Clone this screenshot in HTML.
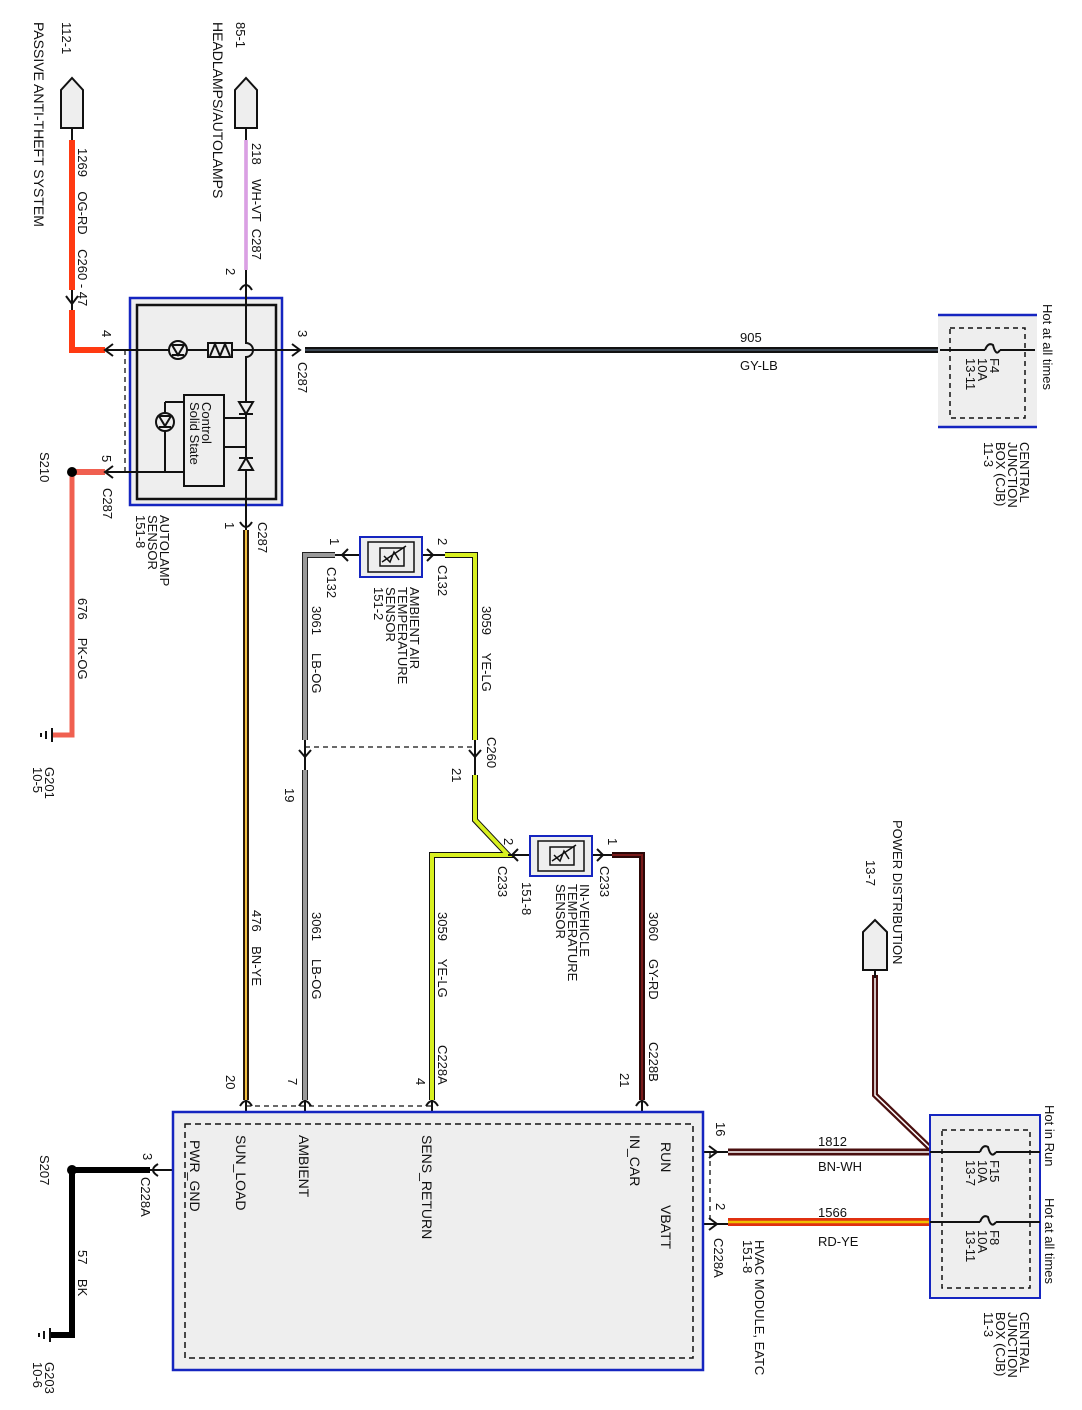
<!DOCTYPE html>
<html><head><meta charset="utf-8"><style>
body{margin:0;background:#fff}
svg{display:block}
text{font-family:"Liberation Sans",sans-serif;font-size:13px;fill:#111;white-space:pre}
.b{font-size:14px}
</style></head><body>
<svg width="1082" height="1410" viewBox="0 0 1082 1410" xmlns="http://www.w3.org/2000/svg" xml:space="preserve">
<g fill="none" stroke-linecap="butt">
<path d="M72 140 V290 M72 310 V350 H105" stroke="#ff3a12" stroke-width="6"/>
<path d="M246 140 V270" stroke="#c060d0" stroke-width="3"/><path d="M246 140 V270" stroke="#f3e0f6" stroke-width="1"/>
<path d="M305 350 H940" stroke="#111" stroke-width="6"/><path d="M305 350 H940" stroke="#4a5a6a" stroke-width="1.5"/>
<path d="M72 472 H105" stroke="#f06050" stroke-width="6"/>
<path d="M72 472 V735 H52" stroke="#f06050" stroke-width="5"/>
<path d="M246 530 V1100" stroke="#2a1608" stroke-width="6"/><path d="M246 530 V1100" stroke="#f2c040" stroke-width="2"/>
<path d="M335 555 H305 V740 M305 770 V1100" stroke="#222" stroke-width="6"/><path d="M335 555 H305 V740 M305 770 V1100" stroke="#9a9a9a" stroke-width="4"/>
<path d="M445 555 H475 V740 M475 775 V820 L508 855 H432 V1100" stroke="#111" stroke-width="6"/><path d="M445 555 H475 V740 M475 775 V820 L508 855 H432 V1100" stroke="#d8f020" stroke-width="4"/>
<path d="M612 855 H642 V1100" stroke="#2a0808" stroke-width="6"/><path d="M612 855 H642 V1100" stroke="#7a1a1a" stroke-width="2"/>
<path d="M728 1152 H930" stroke="#4a0f0f" stroke-width="7"/><path d="M728 1152 H930" stroke="#fff" stroke-width="1.5"/>
<path d="M728 1222 H930" stroke="#e03010" stroke-width="8"/><path d="M728 1222 H930" stroke="#f0c000" stroke-width="2.5"/>
<path d="M875 975 V1095 L932 1150" stroke="#4a0f0f" stroke-width="6"/><path d="M875 975 V1095 L932 1150" stroke="#fff" stroke-width="1.5"/>
<path d="M150 1170 H72 V1335 H50" stroke="#000" stroke-width="6"/>
<path d="M125 350 V472 M305 747 H475 M246 1106 H432 M710 1152 V1224" stroke="#111" stroke-width="1.3" stroke-dasharray="5,4"/>
</g>
<g fill="#eee" stroke="#111" stroke-width="2">
<path d="M61 128 V90 L72 78 L83 90 V128 Z"/>
<path d="M235 128 V90 L246 78 L257 90 V128 Z"/>
<path d="M863 970 V932 L875 920 L887 932 V970 Z"/>
</g>
<path d="M72 128 V140 M246 128 V140 M875 970 V978" stroke="#111" stroke-width="2"/>
<rect x="130" y="298" width="152" height="207" fill="#eee" stroke="#1525c0" stroke-width="2.5"/>
<rect x="137" y="305" width="139" height="194" fill="#eee" stroke="#111" stroke-width="2.5"/>
<g stroke="#111" stroke-width="2" fill="none">
<path d="M246 270 V343 A7 7 0 0 1 246 357 V530"/>
<path d="M105 350 H300"/>
<rect x="208" y="343" width="24" height="14" fill="#eee"/>
<path d="M210 356 L215 344 L220 356 L225 344 L230 356"/>
<circle cx="178" cy="350" r="9" fill="#eee"/>
<path d="M172 345 L184 345 L178 355 Z M172 355 H184"/>
<rect x="184" y="395" width="40" height="91" fill="#eee"/>
<path d="M224 418 H246 M224 447 H246"/>
<path d="M239 402 L253 402 L246 414 Z M239 414 H253" fill="#eee"/>
<path d="M239 470 L253 470 L246 458 Z M239 458 H253" fill="#eee"/>
<path d="M105 472 H184 M165 402 V472 M165 402 H184"/>
<circle cx="165" cy="422" r="9" fill="#eee"/>
<path d="M159 416 H171 L165 426 Z M159 427 H171"/>
</g>
<g stroke="#111" stroke-width="2" fill="none">
<path d="M66 296 L72 304 L78 296 M72 290 V310"/>
<path d="M240 290 Q246 280 252 290"/>
<path d="M113 344 L105 350 L113 356"/>
<path d="M292 344 L300 350 L292 356"/>
<path d="M113 466 L105 472 L113 478"/>
<path d="M240 522 Q246 532 252 522"/>
<path d="M348 549 L342 555 L348 561 M335 555 H360"/>
<path d="M427 549 L433 555 L427 561 M422 555 H445"/>
<path d="M299 750 L305 757 L311 750 M305 740 V770"/>
<path d="M469 750 L475 757 L481 750 M475 740 V775"/>
<path d="M518 849 L512 855 L518 861 M508 855 H530"/>
<path d="M597 849 L603 855 L597 861 M592 855 H612"/>
<path d="M240 1106 Q246 1096 252 1106 M246 1100 V1124"/>
<path d="M299 1106 Q305 1096 311 1106 M305 1100 V1124"/>
<path d="M426 1106 Q432 1096 438 1106 M432 1100 V1124"/>
<path d="M636 1106 Q642 1096 648 1106 M642 1100 V1124"/>
<path d="M693 1152 H728 M709 1146 L717 1152 L709 1158"/>
<path d="M693 1224 H728 M709 1218 L717 1224 L709 1230"/>
<path d="M185 1170 H150 M158 1164 Q148 1170 158 1176"/>
<path d="M52 728 V742 M46 731 V739 M41 733 V737"/>
<path d="M50 1328 V1342 M44 1331 V1339 M39 1333 V1337"/>
</g>
<circle cx="72" cy="472" r="5" fill="#000"/>
<circle cx="72" cy="1170" r="5" fill="#000"/>
<rect x="360" y="537" width="62" height="40" fill="#eee" stroke="#1525c0" stroke-width="2"/>
<rect x="368" y="542" width="46" height="30" fill="#eee" stroke="#111" stroke-width="1.5"/>
<rect x="380" y="548" width="24" height="18" fill="none" stroke="#111" stroke-width="1.5"/>
<path d="M382 562 L406 546 M384 556 L390 562 L394 552 L399 560" stroke="#111" stroke-width="1.5" fill="none"/>
<rect x="530" y="836" width="62" height="40" fill="#eee" stroke="#1525c0" stroke-width="2"/>
<rect x="538" y="841" width="46" height="30" fill="#eee" stroke="#111" stroke-width="1.5"/>
<rect x="550" y="847" width="24" height="18" fill="none" stroke="#111" stroke-width="1.5"/>
<path d="M552 861 L576 845 M554 855 L560 861 L564 851 L569 859" stroke="#111" stroke-width="1.5" fill="none"/>
<rect x="173" y="1112" width="530" height="258" fill="#eee" stroke="#1525c0" stroke-width="2.5"/>
<rect x="185" y="1124" width="508" height="234" fill="none" stroke="#111" stroke-width="1.5" stroke-dasharray="6,4"/>
<rect x="938" y="315" width="99" height="112" fill="#eee"/>
<path d="M938 315 H1037 M938 427 H1037" stroke="#1525c0" stroke-width="2.5"/>
<rect x="950" y="328" width="75" height="90" fill="none" stroke="#111" stroke-width="1.5" stroke-dasharray="5,4"/>
<path d="M940 350 H985 M1000 350 H1035" stroke="#111" stroke-width="2"/>
<rect x="930" y="1115" width="110" height="183" fill="#eee" stroke="#1525c0" stroke-width="2"/>
<rect x="942" y="1130" width="88" height="158" fill="none" stroke="#111" stroke-width="1.5" stroke-dasharray="5,4"/>
<path d="M930 1152 H980 M996 1152 H1040 M930 1222 H980 M996 1222 H1040" stroke="#111" stroke-width="2"/>
<path d="M985 350 Q988 342 993 345 Q996 357 1000 350 M980 1152 Q983 1144 988 1147 Q991 1159 996 1152 M980 1222 Q983 1214 988 1217 Q991 1229 996 1222" stroke="#111" stroke-width="2" fill="none"/>

<text x="740" y="342">905</text>
<text x="740" y="370">GY-LB</text>
<text x="818" y="1146">1812</text>
<text x="818" y="1171">BN-WH</text>
<text x="818" y="1217">1566</text>
<text x="818" y="1246">RD-YE</text>

<g>
<text transform="translate(62,22) rotate(90)">112-1</text>
<text class="b" transform="translate(34,22) rotate(90)">PASSIVE ANTI-THEFT SYSTEM</text>
<text transform="translate(236,22) rotate(90)">85-1</text>
<text class="b" transform="translate(213,22) rotate(90)">HEADLAMPS/AUTOLAMPS</text>
<text transform="translate(78,148) rotate(90)">1269    OG-RD    C260 - 47</text>
<text transform="translate(252,143) rotate(90)">218    WH-VT  C287</text>
<text transform="translate(226,268) rotate(90)">2</text>
<text transform="translate(298,330) rotate(90)">3</text>
<text transform="translate(298,362) rotate(90)">C287</text>
<text transform="translate(102,330) rotate(90)">4</text>
<text transform="translate(102,455) rotate(90)">5</text>
<text transform="translate(103,488) rotate(90)">C287</text>
<text transform="translate(202,402) rotate(90)">Control</text>
<text transform="translate(190,402) rotate(90)">Solid State</text>
<text transform="translate(40,452) rotate(90)">S210</text>
<text transform="translate(160,515) rotate(90)">AUTOLAMP</text>
<text transform="translate(148,515) rotate(90)">SENSOR</text>
<text transform="translate(136,515) rotate(90)">151-8</text>
<text transform="translate(225,522) rotate(90)">1</text>
<text transform="translate(258,522) rotate(90)">C287</text>
<text transform="translate(78,598) rotate(90)">676     PK-OG</text>
<text transform="translate(45,767) rotate(90)">G201</text>
<text transform="translate(33,767) rotate(90)">10-5</text>
<text transform="translate(252,910) rotate(90)">476    BN-YE</text>
<text transform="translate(226,1075) rotate(90)">20</text>
<text transform="translate(330,538) rotate(90)">1</text>
<text transform="translate(327,567) rotate(90)">C132</text>
<text transform="translate(312,606) rotate(90)">3061     LB-OG</text>
<text transform="translate(410,587) rotate(90)">AMBIENT AIR</text>
<text transform="translate(398,587) rotate(90)">TEMPERATURE</text>
<text transform="translate(386,587) rotate(90)">SENSOR</text>
<text transform="translate(374,587) rotate(90)">151-2</text>
<text transform="translate(438,538) rotate(90)">2</text>
<text transform="translate(438,565) rotate(90)">C132</text>
<text transform="translate(482,606) rotate(90)">3059     YE-LG</text>
<text transform="translate(487,737) rotate(90)">C260</text>
<text transform="translate(452,768) rotate(90)">21</text>
<text transform="translate(285,788) rotate(90)">19</text>
<text transform="translate(504,838) rotate(90)">2</text>
<text transform="translate(498,866) rotate(90)">C233</text>
<text transform="translate(522,882) rotate(90)">151-8</text>
<text transform="translate(580,884) rotate(90)">IN-VEHICLE</text>
<text transform="translate(568,884) rotate(90)">TEMPERATURE</text>
<text transform="translate(556,884) rotate(90)">SENSOR</text>
<text transform="translate(608,838) rotate(90)">1</text>
<text transform="translate(600,866) rotate(90)">C233</text>
<text transform="translate(649,912) rotate(90)">3060     GY-RD</text>
<text transform="translate(649,1042) rotate(90)">C228B</text>
<text transform="translate(620,1073) rotate(90)">21</text>
<text transform="translate(438,912) rotate(90)">3059     YE-LG</text>
<text transform="translate(438,1045) rotate(90)">C228A</text>
<text transform="translate(416,1078) rotate(90)">4</text>
<text transform="translate(312,912) rotate(90)">3061     LB-OG</text>
<text transform="translate(288,1078) rotate(90)">7</text>
<text transform="translate(893,820) rotate(90)">POWER DISTRIBUTION</text>
<text transform="translate(866,860) rotate(90)">13-7</text>
<text class="b" transform="translate(190,1140) rotate(90)">PWR_GND</text>
<text class="b" transform="translate(236,1135) rotate(90)">SUN_LOAD</text>
<text class="b" transform="translate(299,1135) rotate(90)">AMBIENT</text>
<text class="b" transform="translate(422,1135) rotate(90)">SENS_RETURN</text>
<text class="b" transform="translate(630,1135) rotate(90)">IN_CAR</text>
<text class="b" transform="translate(661,1142) rotate(90)">RUN</text>
<text class="b" transform="translate(661,1205) rotate(90)">VBATT</text>
<text transform="translate(716,1122) rotate(90)">16</text>
<text transform="translate(716,1203) rotate(90)">2</text>
<text transform="translate(714,1238) rotate(90)">C228A</text>
<text transform="translate(755,1240) rotate(90)">HVAC MODULE, EATC</text>
<text transform="translate(743,1240) rotate(90)">151-8</text>
<text transform="translate(143,1153) rotate(90)">3</text>
<text transform="translate(141,1177) rotate(90)">C228A</text>
<text transform="translate(40,1155) rotate(90)">S207</text>
<text transform="translate(78,1250) rotate(90)">57    BK</text>
<text transform="translate(45,1362) rotate(90)">G203</text>
<text transform="translate(33,1362) rotate(90)">10-6</text>
<text transform="translate(1043,304) rotate(90)">Hot at all times</text>
<text transform="translate(990,358) rotate(90)">F4</text>
<text transform="translate(978,358) rotate(90)">10A</text>
<text transform="translate(966,358) rotate(90)">13-11</text>
<text transform="translate(1020,442) rotate(90)">CENTRAL</text>
<text transform="translate(1008,442) rotate(90)">JUNCTION</text>
<text transform="translate(996,442) rotate(90)">BOX (CJB)</text>
<text transform="translate(984,442) rotate(90)">11-3</text>
<text transform="translate(1045,1105) rotate(90)">Hot in Run</text>
<text transform="translate(1045,1198) rotate(90)">Hot at all times</text>
<text transform="translate(990,1160) rotate(90)">F15</text>
<text transform="translate(978,1160) rotate(90)">10A</text>
<text transform="translate(966,1160) rotate(90)">13-7</text>
<text transform="translate(990,1230) rotate(90)">F8</text>
<text transform="translate(978,1230) rotate(90)">10A</text>
<text transform="translate(966,1230) rotate(90)">13-11</text>
<text transform="translate(1020,1312) rotate(90)">CENTRAL</text>
<text transform="translate(1008,1312) rotate(90)">JUNCTION</text>
<text transform="translate(996,1312) rotate(90)">BOX (CJB)</text>
<text transform="translate(984,1312) rotate(90)">11-3</text>
</g>
</svg>
</body></html>
